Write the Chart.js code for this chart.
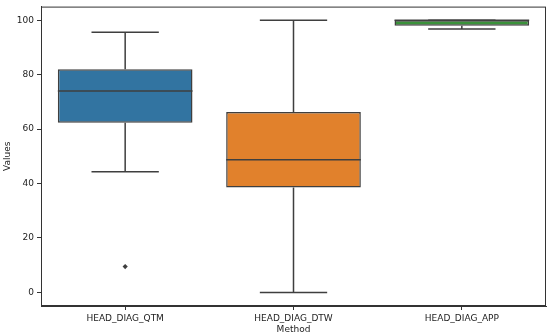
<!DOCTYPE html>
<html>
<head>
<meta charset="utf-8">
<script src="https://cdn.jsdelivr.net/npm/chart.js@4.4.1/dist/chart.umd.min.js"></script>
<style>
  html, body { margin: 0; padding: 0; background: #fff; }
  #wrap { width: 550px; height: 335px; }
</style>
</head>
<body>
<div id="wrap"><canvas id="grafico"></canvas></div>
<script>
// datos
var metodos = ['HEAD_DIAG_QTM', 'HEAD_DIAG_DTW', 'HEAD_DIAG_APP']
var minimos = [44.3, 0, 96.8]
var q1 = [62.3, 38.5, 98.0]
var medianas = [74.0, 48.7, 100]
var q3 = [82.0, 66.3, 100]
var maximos = [95.6, 100, 100]
var atipicos = [{x: 'HEAD_DIAG_QTM', y: 9.5}]
var ticksY = [0, 20, 40, 60, 80, 100]

var colores = ['#3274a1', '#e1812c', '#3a923a']
var gris = '#3f3f3f'
var fuente = {family: 'DejaVu Sans', size: 9}

var cajas = metodos.map((m, i) => [q1[i], q3[i]])

var bigotes = {
    id: 'bigotes',
    beforeDatasetsDraw(chart) {
        var c = chart.ctx
        var xs = chart.scales.x
        var ys = chart.scales.y
        var meta = chart.getDatasetMeta(0)
        c.save()
        c.strokeStyle = gris
        c.lineWidth = 1.5
        metodos.forEach((m, i) => {
            var x = xs.getPixelForValue(i)
            var w = meta.data[i].width / 4
            c.beginPath()
            c.moveTo(x, ys.getPixelForValue(q3[i]))
            c.lineTo(x, ys.getPixelForValue(maximos[i]))
            c.moveTo(x, ys.getPixelForValue(q1[i]))
            c.lineTo(x, ys.getPixelForValue(minimos[i]))
            c.moveTo(x - w, ys.getPixelForValue(maximos[i]))
            c.lineTo(x + w, ys.getPixelForValue(maximos[i]))
            c.moveTo(x - w, ys.getPixelForValue(minimos[i]))
            c.lineTo(x + w, ys.getPixelForValue(minimos[i]))
            c.stroke()
        })
        c.restore()
    },
    afterDatasetsDraw(chart) {
        var c = chart.ctx
        var xs = chart.scales.x
        var ys = chart.scales.y
        var meta = chart.getDatasetMeta(0)
        var a = chart.chartArea
        c.save()
        c.strokeStyle = gris
        c.lineWidth = 1.5
        metodos.forEach((m, i) => {
            var x = xs.getPixelForValue(i)
            var w = meta.data[i].width / 2
            var y = ys.getPixelForValue(medianas[i])
            c.beginPath()
            c.moveTo(x - w, y)
            c.lineTo(x + w, y)
            c.stroke()
        })
        // marco
        c.strokeStyle = '#333'
        c.lineWidth = 1
        c.strokeRect(a.left + 0.5, a.top + 0.5, a.right - a.left - 1, a.bottom - a.top - 1)
        c.restore()
    }
}

var ctx = document.getElementById('grafico')
var grafico = new Chart(ctx,
    {
        type: 'bar',
        data:
            {
                labels: metodos,
                datasets:
                    [{
                        type: 'bar',
                        data: cajas,
                        backgroundColor: colores,
                        borderColor: gris,
                        borderWidth: 1.5,
                        borderSkipped: false,
                        barPercentage: 0.8,
                        categoryPercentage: 1,
                        order: 2
                    },
                    {
                        type: 'line',
                        data: atipicos,
                        showLine: false,
                        pointStyle: 'rectRot',
                        pointRadius: 2.6,
                        pointBackgroundColor: gris,
                        pointBorderColor: gris,
                        pointBorderWidth: 0,
                        order: 1
                    }]
            },
        options:
            {
                responsive: true,
                maintainAspectRatio: false,
                animation: false,
                layout: {padding: {top: 0, right: 4, left: 0, bottom: 0}},
                plugins: {legend: {display: false}, tooltip: {enabled: false}},
                scales:
                    {
                        x:
                            {
                                offset: true,
                                grid: {display: true, offset: false, drawOnChartArea: false, tickLength: 4, color: '#333'},
                                border: {color: '#333'},
                                ticks: {color: '#222', font: fuente, padding: 3, maxRotation: 0},
                                title: {display: true, text: 'Method', color: '#222', font: fuente, padding: {top: 0, bottom: 0}},
                                afterFit: s => { s.height = 29 }
                            },
                        y:
                            {
                                min: -5,
                                max: 105,
                                grid: {display: true, drawOnChartArea: false, tickLength: 4, color: '#333'},
                                border: {color: '#333'},
                                ticks: {color: '#222', font: {family: 'DejaVu Sans', size: 9, lineHeight: 0.8}, padding: 3},
                                afterBuildTicks: s => { s.ticks = ticksY.map(v => ({value: v})) },
                                title: {display: true, text: 'Values', color: '#222', font: fuente, padding: {top: 2, bottom: 0}},
                                afterFit: s => { s.width = 41 }
                            }
                    }
            },
        plugins: [bigotes]
    })
</script>
</body>
</html>
